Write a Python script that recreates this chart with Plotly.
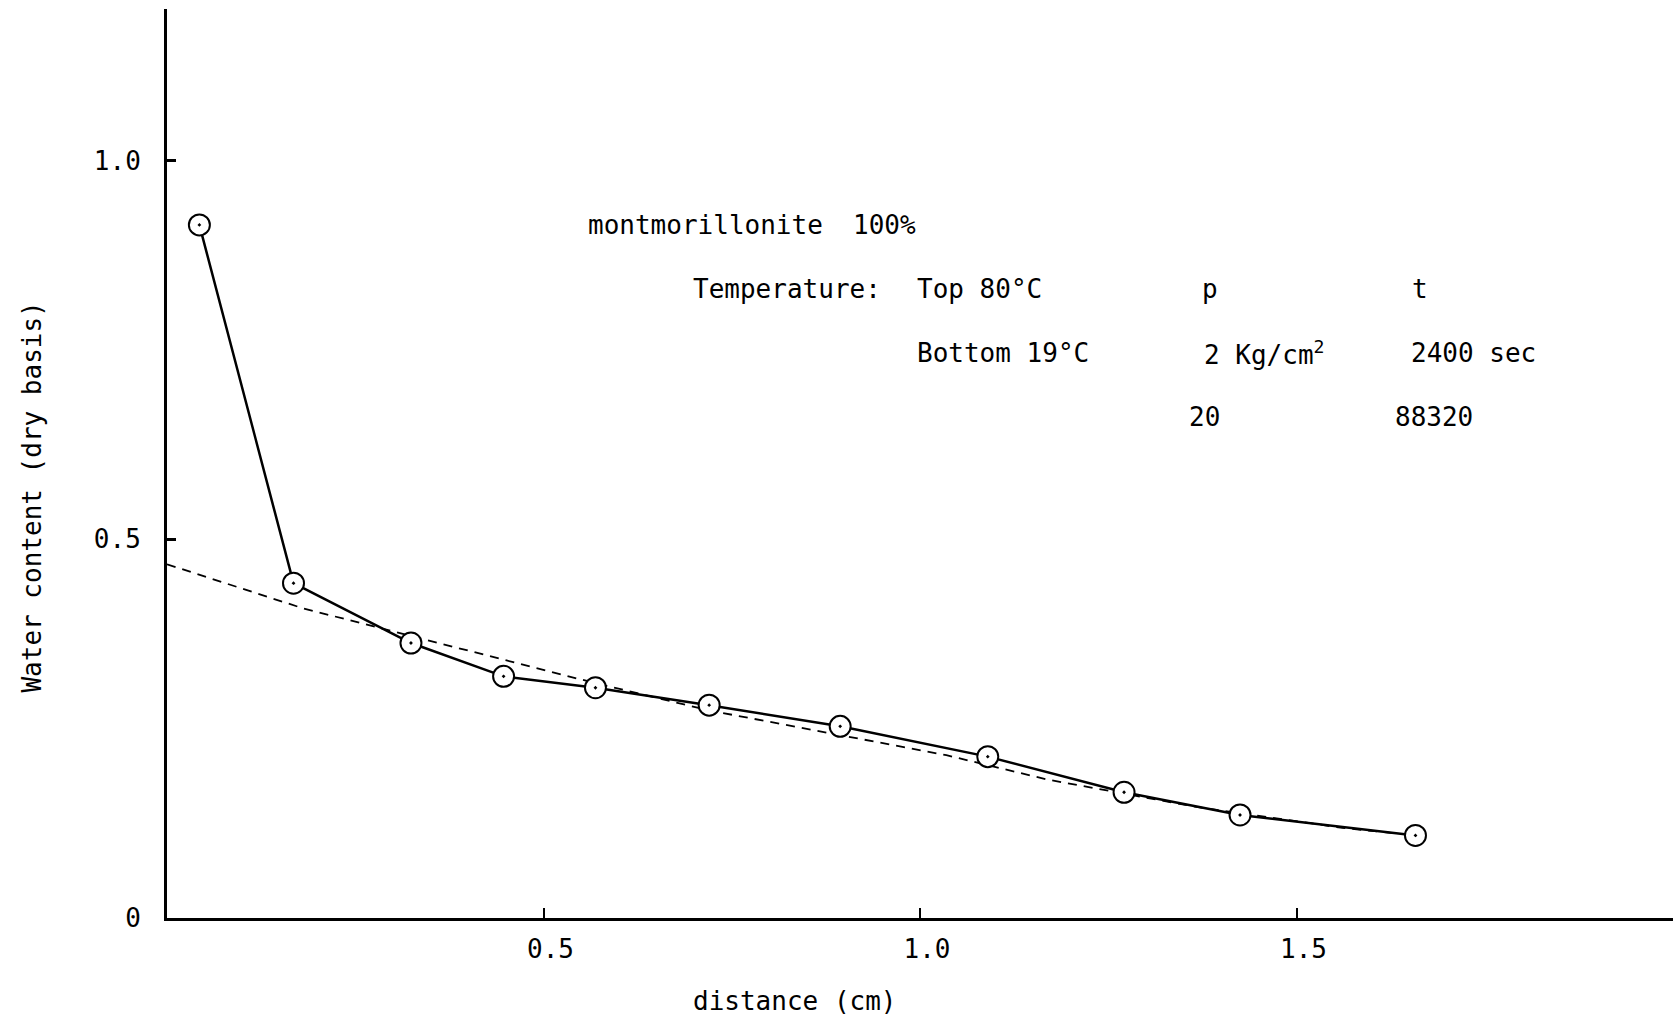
import plotly.graph_objects as go

distance = [0.043, 0.168, 0.324, 0.447, 0.569, 0.720, 0.894, 1.090, 1.271, 1.425, 1.658]
water = [0.915, 0.442, 0.363, 0.319, 0.304, 0.281, 0.253, 0.213, 0.166, 0.136, 0.109]

# Dashed reference curve
fit_x = [0.0, 0.180, 0.451, 0.569, 0.720, 0.857, 1.035, 1.168, 1.365, 1.561, 1.678]
fit_y = [0.467, 0.409, 0.340, 0.310, 0.274, 0.248, 0.215, 0.183, 0.147, 0.119, 0.107]

x_ticks = [0.5, 1.0, 1.5]
x_tick_labels = ["0.5", "1.0", "1.5"]
y_ticks = [0, 0.5, 1.0]
y_tick_labels = ["0", "0.5", "1.0"]

# Text block: (text, x, y)
notes = [
    ("montmorillonite", 0.556, 0.915),
    ("100%", 0.908, 0.915),
    ("Temperature:", 0.6965, 0.830),
    ("Top 80°C", 0.9927, 0.830),
    ("p", 1.372, 0.830),
    ("t", 1.651, 0.830),
    ("Bottom 19°C", 0.9927, 0.746),
    ("2 Kg/cm<sup>2</sup>", 1.374, 0.746),
    ("2400 sec", 1.649, 0.746),
    ("20", 1.354, 0.662),
    ("88320", 1.628, 0.662),
]

FONT = "DejaVu Sans Mono"
FS = 26

fig = go.Figure()
fig.add_trace(go.Scatter(
    x=fit_x, y=fit_y, mode="lines",
    line=dict(color="black", width=1.8, dash="9px,7px"),
    showlegend=False, hoverinfo="skip",
))
fig.add_trace(go.Scatter(
    x=distance, y=water, mode="lines+markers",
    line=dict(color="black", width=2.5),
    marker=dict(symbol="circle-dot", size=21, color="white",
                line=dict(color="black", width=2)),
    showlegend=False,
))

annotations = []
for text, x, y in notes:
    annotations.append(dict(
        x=x, y=y, xref="x", yref="y", text=text, showarrow=False,
        xanchor="left", yanchor="middle",
        font=dict(family=FONT, size=FS, color="black"),
    ))
annotations.append(dict(
    x=0.834, y=-0.0913, xref="x", yref="paper", text="distance (cm)",
    showarrow=False, xanchor="center", yanchor="middle",
    font=dict(family=FONT, size=FS, color="black"),
))
annotations.append(dict(
    x=-0.0896, y=0.4626, xref="paper", yref="paper",
    text="Water content (dry basis)", textangle=-90,
    showarrow=False, xanchor="center", yanchor="middle",
    font=dict(family=FONT, size=FS, color="black"),
))

fig.update_layout(
    width=1673, height=1018,
    margin=dict(l=167, r=0, t=9, b=100),
    paper_bgcolor="white", plot_bgcolor="white",
    font=dict(family=FONT, size=FS, color="black"),
    annotations=annotations,
    xaxis=dict(
        range=[0, 2.0], showgrid=False, zeroline=False,
        showline=True, linecolor="black", linewidth=3,
        ticks="inside", ticklen=10, tickwidth=2, tickcolor="black",
        tickvals=x_ticks, ticktext=x_tick_labels,
        ticklabelshift=7, ticklabelstandoff=6,
    ),
    yaxis=dict(
        range=[0, 1.2], showgrid=False, zeroline=False,
        showline=True, linecolor="black", linewidth=3,
        ticks="inside", ticklen=9, tickwidth=3, tickcolor="black",
        tickvals=y_ticks, ticktext=y_tick_labels,
        ticklabelstandoff=18,
    ),
)

fig.write_html("out.html")
